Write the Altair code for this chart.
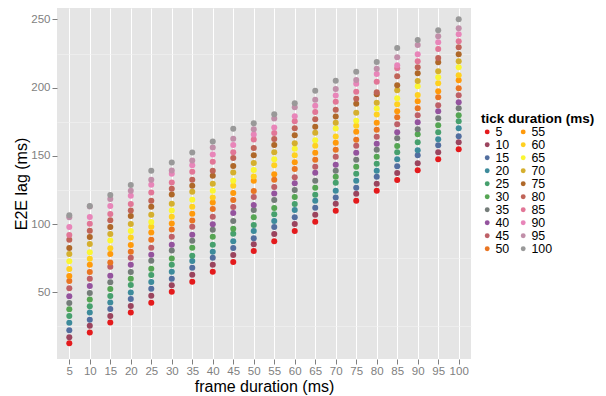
import altair as alt
import pandas as pd

frame_durations = [5, 10, 15, 20, 25, 30, 35, 40, 45, 50, 55, 60, 65, 70, 75, 80, 85, 90, 95, 100]
tick_durations = [5, 10, 15, 20, 25, 30, 35, 40, 45, 50, 55, 60, 65, 70, 75, 80, 85, 90, 95, 100]

# E2E lag (ms) per frame duration, one value per tick duration (5..100)
lag_f5 = [12.7, 17.1, 22.2, 27.6, 32.7, 37.6, 42.2, 47.1, 53.0, 58.3, 62.0, 67.1, 72.7, 78.1, 82.5, 88.6, 92.0, 97.9, 105.0, 106.4]
lag_f10 = [20.5, 25.4, 29.8, 35.1, 39.8, 44.7, 49.5, 54.7, 60.0, 64.9, 70.1, 74.5, 79.3, 85.4, 90.6, 95.2, 100.3, 105.2, 112.8, 113.2]
lag_f15 = [27.8, 32.7, 37.8, 42.5, 47.3, 52.5, 57.4, 62.2, 68.8, 71.8, 78.1, 82.3, 87.9, 92.8, 97.9, 102.8, 107.4, 113.3, 118.4, 121.3]
lag_f20 = [35.1, 40.0, 45.1, 49.8, 55.4, 60.0, 64.9, 70.1, 75.4, 79.8, 84.7, 90.1, 95.0, 100.1, 106.0, 109.9, 114.7, 120.8, 124.5, 128.7]
lag_f25 = [42.4, 47.5, 52.6, 57.5, 62.6, 67.3, 73.1, 77.5, 82.7, 88.5, 93.9, 98.0, 101.5, 106.8, 112.7, 117.1, 123.2, 128.8, 132.5, 139.1]
lag_f30 = [50.4, 55.1, 60.0, 65.1, 70.2, 74.8, 80.7, 84.9, 90.7, 96.1, 100.5, 105.4, 110.0, 114.9, 121.7, 125.9, 130.5, 136.9, 139.3, 145.2]
lag_f35 = [57.8, 62.9, 68.0, 72.9, 76.8, 82.7, 87.8, 92.2, 98.0, 102.7, 107.6, 112.7, 117.8, 123.7, 128.1, 132.5, 138.4, 143.2, 146.6, 152.5]
lag_f40 = [65.1, 70.2, 75.3, 79.7, 84.9, 90.7, 95.8, 99.8, 105.4, 111.0, 115.9, 119.5, 124.4, 129.5, 135.4, 139.1, 145.7, 151.1, 156.2, 160.6]
lag_f45 = [72.2, 77.3, 82.4, 87.5, 92.9, 96.6, 102.2, 108.1, 112.5, 117.6, 122.7, 128.1, 131.7, 137.9, 142.5, 148.4, 152.7, 157.9, 162.5, 169.8]
lag_f50 = [80.2, 85.3, 89.7, 94.9, 99.3, 105.1, 110.3, 113.9, 119.8, 124.2, 131.7, 134.9, 139.6, 144.7, 150.5, 155.7, 162.0, 165.7, 169.6, 174.0]
lag_f55 = [87.5, 92.7, 97.8, 102.2, 107.3, 111.7, 117.6, 122.5, 127.1, 132.5, 136.6, 143.2, 147.6, 152.7, 157.9, 162.3, 166.7, 170.8, 177.4, 180.6]
lag_f60 = [94.9, 100.0, 105.1, 110.3, 114.7, 119.8, 124.9, 130.0, 134.4, 140.3, 145.4, 150.5, 155.2, 159.3, 165.2, 170.3, 175.4, 179.1, 185.7, 188.6]
lag_f65 = [101.7, 106.8, 112.0, 117.1, 121.5, 126.6, 131.7, 137.6, 142.0, 147.1, 152.3, 157.4, 161.5, 166.9, 171.3, 176.9, 182.1, 186.7, 191.1, 197.7]
lag_f70 = [109.8, 114.9, 119.5, 124.4, 130.3, 134.7, 139.1, 143.5, 149.3, 154.5, 159.6, 164.2, 170.1, 174.2, 178.9, 183.8, 189.6, 194.3, 199.1, 205.0]
lag_f75 = [117.1, 122.2, 126.6, 131.7, 136.9, 142.0, 147.1, 152.3, 157.4, 161.8, 167.6, 172.0, 175.7, 181.6, 188.2, 191.8, 197.0, 202.8, 205.7, 211.6]
lag_f80 = [124.4, 129.5, 134.7, 139.1, 144.2, 149.3, 154.5, 158.9, 164.0, 169.1, 174.2, 180.3, 184.7, 188.9, 195.2, 196.7, 204.3, 210.1, 213.8, 218.9]
lag_f85 = [132.4, 137.5, 142.4, 147.6, 152.7, 157.3, 162.9, 167.3, 173.2, 178.3, 182.7, 187.9, 192.2, 198.1, 201.8, 208.4, 214.2, 216.4, 222.3, 229.1]
lag_f90 = [139.5, 144.6, 150.5, 154.2, 160.0, 165.9, 169.5, 174.7, 179.8, 184.9, 190.0, 194.7, 201.0, 204.9, 210.6, 215.0, 219.4, 224.5, 231.3, 235.0]
lag_f95 = [147.6, 152.7, 157.8, 162.2, 167.3, 172.5, 177.6, 182.7, 187.1, 193.0, 197.4, 203.2, 207.6, 212.0, 218.6, 221.8, 228.4, 233.3, 237.7, 242.1]
lag_f100 = [154.9, 160.0, 164.4, 170.3, 175.4, 179.8, 184.9, 189.3, 194.4, 199.6, 205.4, 209.1, 215.0, 219.4, 224.5, 229.6, 234.0, 239.1, 243.5, 250.1]

lags_by_frame = [lag_f5, lag_f10, lag_f15, lag_f20, lag_f25, lag_f30, lag_f35, lag_f40, lag_f45, lag_f50,
                 lag_f55, lag_f60, lag_f65, lag_f70, lag_f75, lag_f80, lag_f85, lag_f90, lag_f95, lag_f100]

y_major = [50, 100, 150, 200, 250]
y_minor = [25, 75, 125, 175, 225]

palette = ["#E41A1C", "#9B445E", "#526E9F", "#3D8B9B", "#46A06D", "#55A553", "#747C79", "#94539E",
           "#BE6067", "#E97522", "#FF9A0B", "#FFD020", "#FAF632", "#D5AF2E", "#AF6829", "#C06458",
           "#E27697", "#E885B9", "#C18FA9", "#999999"]

rows = []
for f, lags in zip(frame_durations, lags_by_frame):
    for t, v in zip(tick_durations, lags):
        rows.append({"frame": f, "tick": t, "lag": v})
df = pd.DataFrame(rows)

y_scale = alt.Scale(domain=[1.1, 258.4], nice=False, zero=False)

# minor grid lines drawn by a second (label-less) y axis sharing the same scale
minor = alt.Chart(df).mark_point(opacity=0).encode(
    y=alt.Y("lag:Q", scale=y_scale,
            axis=alt.Axis(orient="right", values=y_minor, grid=True, gridColor="#F2F2F2",
                          gridWidth=0.6, labels=False, ticks=False, domain=False, title=None))
)

points = alt.Chart(df).mark_circle(size=36, opacity=1).encode(
    x=alt.X("frame:O", scale=alt.Scale(type="point", padding=0.6),
            axis=alt.Axis(title="frame duration (ms)", labelAngle=0, labelPadding=1.5, titlePadding=1)),
    y=alt.Y("lag:Q", scale=y_scale,
            axis=alt.Axis(title="E2E lag (ms)", values=y_major, labelPadding=2, titlePadding=1)),
    color=alt.Color("tick:N", scale=alt.Scale(domain=tick_durations, range=palette),
                    legend=alt.Legend(title="tick duration (ms)", columns=2, orient="none",
                                      legendX=424, legendY=104)),
)

chart = alt.layer(minor, points).resolve_axis(y="independent").properties(
    width=414, height=351,
    autosize=alt.AutoSizeParams(type="none"),
    padding={"left": 49, "top": 0, "right": 125, "bottom": 36},
).configure_view(
    fill="#E5E5E5", strokeWidth=0
).configure_axis(
    grid=True, gridColor="white", gridWidth=1, domain=False,
    tickColor="#7F7F7F", tickSize=5, tickWidth=1,
    labelColor="#7F7F7F", labelFontSize=11.5, labelFont="Liberation Sans",
    titleFont="Liberation Sans", titleFontSize=16, titleFontWeight="normal", titleColor="black",
).configure_legend(
    titleFont="Liberation Sans", titleFontSize=13.5, titleFontWeight="bold", titleColor="black",
    labelFont="Liberation Sans", labelFontSize=12.4, labelColor="black",
    symbolType="circle", symbolSize=24, symbolStrokeWidth=0,
    rowPadding=-3, columnPadding=7, labelOffset=2, titlePadding=0, padding=0,
)

chart.save("out.html", embed_options={"renderer": "svg", "actions": False})
